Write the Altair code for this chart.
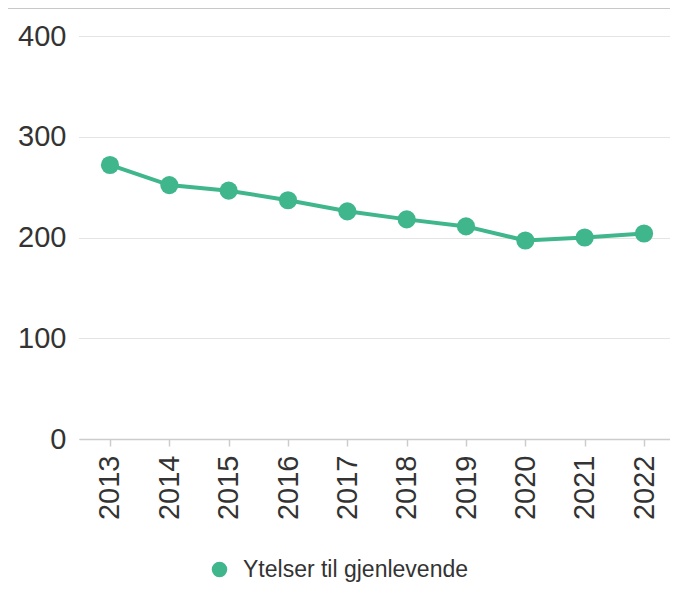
import altair as alt
import pandas as pd

years = ["2013", "2014", "2015", "2016", "2017", "2018", "2019", "2020", "2021", "2022"]
values = [272, 252, 246.5, 237, 226, 218, 211, 197, 200, 204]
series = "Ytelser til gjenlevende"
y_ticks = [0, 100, 200, 300, 400]

GREEN = "#3fb68c"
FONT = "Liberation Sans"

df = pd.DataFrame({"year": years, "value": values, "series": [series] * len(years)})

base = alt.Chart(df).encode(
    x=alt.X(
        "year:O",
        scale=alt.Scale(type="point", padding=0.48, align=0.544),
        axis=alt.Axis(
            title=None,
            labelAngle=-90,
            labelFontSize=29,
            labelColor="#333333",
            labelFont=FONT,
            labelPadding=9,
            labelBaseline="middle",
            labelAlign="right",
            tickSize=7,
            tickColor="#cccccc",
            tickWidth=1.5,
            domainColor="#cccccc",
            domainWidth=1.5,
            grid=False,
        ),
    ),
    y=alt.Y(
        "value:Q",
        scale=alt.Scale(domain=[0, 400], nice=False),
        axis=alt.Axis(
            title=None,
            values=y_ticks,
            labelFontSize=29,
            labelColor="#333333",
            labelFont=FONT,
            labelPadding=13,
            domain=False,
            ticks=False,
            grid=True,
            gridColor="#c8c8c8",
            gridDash=[1, 1],
            gridWidth=1,
        ),
    ),
)

line = base.mark_line(color=GREEN, strokeWidth=4)
points = base.mark_point(filled=True, size=330, opacity=1).encode(
    color=alt.Color(
        "series:N",
        scale=alt.Scale(range=[GREEN]),
        legend=alt.Legend(
            title=None,
            orient="none",
            legendX=129,
            legendY=522,
            symbolType="circle",
            symbolSize=240,
            symbolOpacity=1,
            labelFontSize=23,
            labelColor="#333333",
            labelFont=FONT,
            labelOffset=12,
            labelLimit=0,
        ),
    )
)

border_data = alt.Data(values=[{}])
left_border = alt.Chart(border_data).mark_rule(color="#c8c8c8", strokeWidth=1).encode(
    x=alt.value(-71.5), y=alt.value(-28), y2=alt.value(560)
)
top_border = alt.Chart(border_data).mark_rule(color="#c8c8c8", strokeWidth=1).encode(
    x=alt.value(-71.5), x2=alt.value(600), y=alt.value(-27.5)
)

chart = (
    alt.layer(line, points, left_border, top_border)
    .properties(
        width=591,
        height=403,
        autosize=alt.AutoSizeParams(type="none"),
        padding={"left": 71, "top": 28, "right": 0, "bottom": 150},
    )
    .configure_view(stroke=None)
)

chart.save("out.html", embed_options={"renderer": "svg", "actions": False})
